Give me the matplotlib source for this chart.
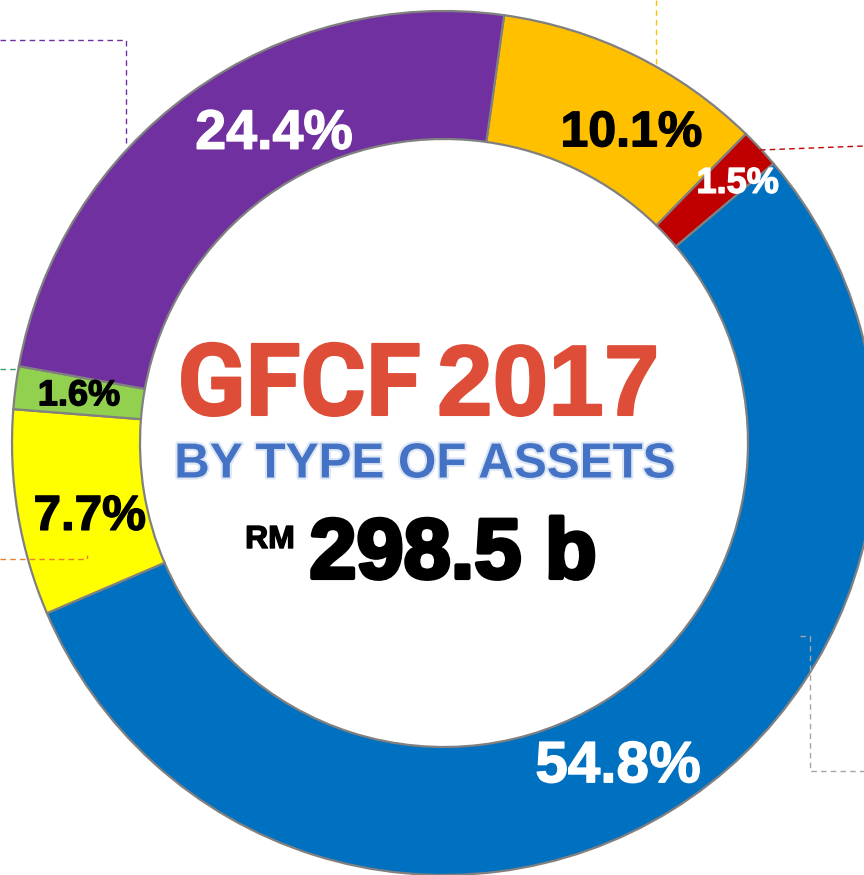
import matplotlib
matplotlib.use("Agg")
import matplotlib.pyplot as plt
import matplotlib.patheffects as pe
import numpy as np

# ---- data ----
categories = ["Orange", "Red", "Blue", "Yellow", "Green", "Purple"]
shares = [10.1, 1.5, 54.8, 7.7, 1.6, 24.4]
labels = ["10.1%", "1.5%", "54.8%", "7.7%", "1.6%", "24.4%"]
title_main = "GFCF"
title_year = "2017"
subtitle = "BY TYPE OF ASSETS"
total_prefix = "RM"
total_value = "298.5 b"

# ---- styles ----
colors = ["#FFC000", "#C00000", "#0070C0", "#FFFF00", "#92D050", "#7030A0"]
label_colors = ["black", "white", "white", "black", "black", "white"]
label_sizes = [36, 26, 42, 35.5, 26, 40]
label_angle_offset = [-5, -1.5, -3.5, 2.5, 0, -7]
label_radius = [362, 392, 368, 362, 368, 352]

W, H = 864, 875
fig = plt.figure(figsize=(W / 100, H / 100), dpi=100)
ax = fig.add_axes([0, 0, 1, 1])

cx, cy = 444, H - 443
R, r = 432, 304

wedges, _ = ax.pie(shares, colors=colors, startangle=82, counterclock=False,
                   center=(cx, cy), radius=R,
                   wedgeprops=dict(width=R - r, edgecolor="#808080", linewidth=1.6))
ax.set_xlim(0, W)
ax.set_ylim(0, H)
ax.set_aspect("equal")
ax.axis("off")

bold = "Liberation Sans"
for w, lab, c, s, off, rad in zip(wedges, labels, label_colors, label_sizes,
                                  label_angle_offset, label_radius):
    mid = np.deg2rad((w.theta1 + w.theta2) / 2 + off)
    ax.text(cx + rad * np.cos(mid), cy + rad * np.sin(mid), lab, color=c,
            fontsize=s, fontweight="bold", family=bold, ha="center", va="center",
            path_effects=[pe.withStroke(linewidth=1, foreground=c)])

red = "#DE4D37"
ax.text(421, H - 415, title_main, color=red, fontsize=72, fontweight="bold",
        family="Roboto", ha="right", va="baseline",
        path_effects=[pe.withStroke(linewidth=1.5, foreground=red)])
ax.text(437, H - 415, title_year, color=red, fontsize=72, fontweight="bold",
        family=bold, ha="left", va="baseline",
        path_effects=[pe.withStroke(linewidth=1.5, foreground=red)])
ax.text(424, H - 465, subtitle, color="#4472C4", fontsize=35.5, fontweight="bold",
        family=bold, ha="center", va="center",
        path_effects=[pe.withStroke(linewidth=3, foreground="#DCE6F5")])
ax.text(270, H - 548, total_prefix, color="black", fontsize=23, fontweight="bold",
        family=bold, ha="center", va="baseline",
        path_effects=[pe.withStroke(linewidth=1, foreground="black")])
ax.text(453, H - 578, total_value, color="black", fontsize=61, fontweight="bold",
        family=bold, ha="center", va="baseline",
        path_effects=[pe.withStroke(linewidth=3, foreground="black")])

# ---- leader lines (dashed) ----
dash = dict(linestyle=(0, (4, 3)), linewidth=1.0)
ax.plot([0, 126, 126], [H - 40, H - 40, H - 143], color="#7030A0", **dash)
ax.plot([656, 656], [H, H - 65], color="#FFC000", **dash)
ax.plot([760, 864], [H - 150, H - 146], color="#C00000", **dash)
ax.plot([0, 20], [H - 369, H - 369], color="#3CA06E", **dash)
ax.plot([0, 87, 87], [H - 559, H - 559, H - 555], color="#ED7D31", **dash)
ax.plot([800, 810, 810, 864], [H - 636, H - 636, H - 771, H - 771], color="#A5A5A5", **dash)

fig.savefig("out.png", dpi=100)
